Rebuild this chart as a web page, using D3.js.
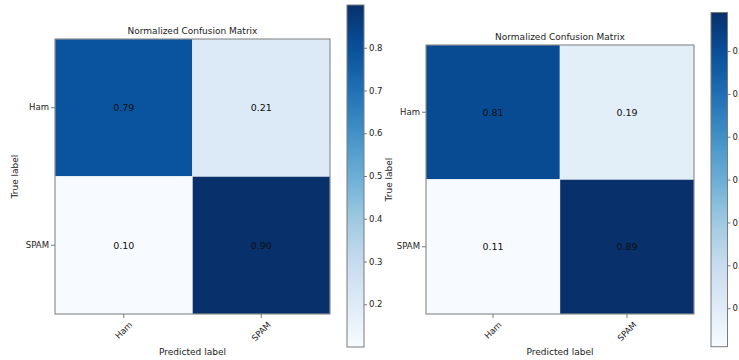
<!DOCTYPE html>
<html>
<head>
<meta charset="utf-8">
<script src="https://cdn.jsdelivr.net/npm/d3@7"></script>
<style>
  html, body { margin: 0; padding: 0; background: #fff; }
  svg { display: block; font-family: "DejaVu Sans", sans-serif; }
</style>
</head>
<body>
<svg id="chart" width="739" height="360"></svg>
<script>
// Class names for both axes
const categories = ["Ham", "SPAM"];
// Normalized confusion matrices (rows = true label, columns = predicted label)
const leftValues = [[0.79, 0.21], [0.10, 0.90]];
const rightValues = [[0.81, 0.19], [0.11, 0.89]];
// Colorbar tick values
const colorbarTicks = [0.2, 0.3, 0.4, 0.5, 0.6, 0.7, 0.8];
const titleText = "Normalized Confusion Matrix";
const xAxisLabel = "Predicted label";
const yAxisLabel = "True label";

// Matplotlib "Blues" colormap anchors (linear between them)
const blues9 = ["#f7fbff", "#deebf7", "#c6dbef", "#9ecae1", "#6baed6",
                "#4292c6", "#2171b5", "#08519c", "#08306b"];
const bluesInterp = d3.piecewise(d3.interpolateRgb, blues9);

const svg = d3.select("#chart");
const defs = svg.append("defs");

const panels = [
  { id: "a", values: leftValues,
    mx: 55, my: 39, mw: 275, mh: 275,
    cbx: 347, cbw: 17, cby0: 5, cby1: 347,
    ylabX: 15 },
  { id: "b", values: rightValues,
    mx: 426, my: 45, mw: 268, mh: 269,
    cbx: 711, cbw: 16.5, cby0: 12.5, cby1: 346.7,
    ylabX: 389 }
];

const textColor = "#222";
const spineColor = "#7a7a7a";

panels.forEach(p => {
  const flat = p.values.flat();
  const vmin = d3.min(flat), vmax = d3.max(flat);
  const color = d3.scaleSequential(bluesInterp).domain([vmin, vmax]);

  const x = d3.scaleBand().domain(categories).range([p.mx, p.mx + p.mw]);
  const y = d3.scaleBand().domain(categories).range([p.my, p.my + p.mh]);

  const cells = [];
  p.values.forEach((row, i) => row.forEach((v, j) => {
    cells.push({ t: categories[i], pr: categories[j], v });
  }));

  const g = svg.append("g");

  // Heatmap cells
  g.selectAll("rect.cell").data(cells).join("rect")
    .attr("class", "cell")
    .attr("x", d => x(d.pr))
    .attr("y", d => y(d.t))
    .attr("width", x.bandwidth())
    .attr("height", y.bandwidth())
    .attr("fill", d => color(d.v))
    .attr("stroke", "rgba(255,255,255,0.45)")
    .attr("stroke-width", 0.8);

  // Cell value labels
  g.selectAll("text.val").data(cells).join("text")
    .attr("class", "val")
    .attr("x", d => x(d.pr) + x.bandwidth() / 2)
    .attr("y", d => y(d.t) + y.bandwidth() / 2)
    .attr("text-anchor", "middle")
    .attr("dominant-baseline", "central")
    .attr("font-size", 9.5)
    .attr("fill", "#111")
    .text(d => d3.format(".2f")(d.v));

  // Frame around the matrix
  g.append("rect")
    .attr("x", p.mx).attr("y", p.my)
    .attr("width", p.mw).attr("height", p.mh)
    .attr("fill", "none")
    .attr("stroke", spineColor)
    .attr("stroke-width", 1);

  // Y axis (true label)
  const yAxis = g.append("g")
    .attr("transform", `translate(${p.mx},0)`)
    .call(d3.axisLeft(y).tickSize(4).tickPadding(2));
  yAxis.select(".domain").remove();
  yAxis.selectAll("line").attr("stroke", spineColor);
  yAxis.selectAll("text")
    .attr("font-size", 8.5)
    .attr("font-family", "DejaVu Sans, sans-serif")
    .attr("fill", textColor);

  // X axis (predicted label) with rotated tick labels
  const xAxis = g.append("g")
    .attr("transform", `translate(0,${p.my + p.mh})`)
    .call(d3.axisBottom(x).tickSize(4));
  xAxis.select(".domain").remove();
  xAxis.selectAll("line").attr("stroke", spineColor);
  xAxis.selectAll("text")
    .attr("font-size", 8.5)
    .attr("font-family", "DejaVu Sans, sans-serif")
    .attr("fill", textColor)
    .attr("y", 0).attr("dy", null)
    .attr("text-anchor", "middle")
    .attr("dominant-baseline", "central")
    .attr("transform", function (d) {
      const w = this.getComputedTextLength();
      const half = (w + 9) * Math.SQRT1_2 / 2;
      return `translate(0,${6 + half}) rotate(-45)`;
    });

  // Title
  g.append("text")
    .attr("x", p.mx + p.mw / 2)
    .attr("y", p.my - 5)
    .attr("text-anchor", "middle")
    .attr("font-size", 9)
    .attr("fill", textColor)
    .text(titleText);

  // Axis titles
  g.append("text")
    .attr("x", p.mx + p.mw / 2)
    .attr("y", 355)
    .attr("text-anchor", "middle")
    .attr("font-size", 9)
    .attr("fill", textColor)
    .text(xAxisLabel);

  g.append("text")
    .attr("transform", `translate(${p.ylabX},${p.my + p.mh / 2}) rotate(-90)`)
    .attr("text-anchor", "middle")
    .attr("dominant-baseline", "central")
    .attr("font-size", 9)
    .attr("fill", textColor)
    .text(yAxisLabel);

  // Colorbar
  const gradId = "grad-" + p.id;
  const grad = defs.append("linearGradient")
    .attr("id", gradId)
    .attr("x1", 0).attr("y1", 1).attr("x2", 0).attr("y2", 0);
  d3.range(0, 1.0001, 0.05).forEach(t => {
    grad.append("stop")
      .attr("offset", t)
      .attr("stop-color", bluesInterp(t));
  });

  g.append("rect")
    .attr("x", p.cbx).attr("y", p.cby0)
    .attr("width", p.cbw).attr("height", p.cby1 - p.cby0)
    .attr("fill", `url(#${gradId})`)
    .attr("stroke", spineColor)
    .attr("stroke-width", 1);

  const cbScale = d3.scaleLinear().domain([vmin, vmax]).range([p.cby1, p.cby0]);
  const cbAxis = g.append("g")
    .attr("transform", `translate(${p.cbx + p.cbw},0)`)
    .call(d3.axisRight(cbScale).tickValues(colorbarTicks)
      .tickFormat(d3.format(".1f")).tickSize(3).tickPadding(2));
  cbAxis.select(".domain").remove();
  cbAxis.selectAll("line").attr("stroke", spineColor);
  cbAxis.selectAll("text")
    .attr("font-size", 8.5)
    .attr("font-family", "DejaVu Sans, sans-serif")
    .attr("fill", textColor);
});
</script>
</body>
</html>
